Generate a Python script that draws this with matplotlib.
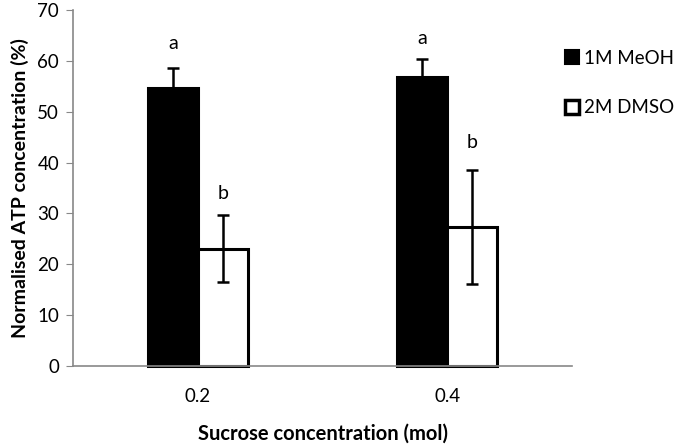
import numpy as np
import matplotlib

matplotlib.use("Agg")
import matplotlib.pyplot as plt
from matplotlib.patches import Patch

categories = ["0.2", "0.4"]
series = ["1M MeOH", "2M DMSO"]
means = [[54.6, 56.8], [23.1, 27.4]]
errors = [[4.0, 3.5], [6.6, 11.2]]
letters = [["a", "a"], ["b", "b"]]
letter_y = [[63.5, 64.4], [34.0, 44.0]]

plt.rcParams["font.family"] = ["Lato", "DejaVu Sans"]

fig = plt.figure(figsize=(6.75, 4.44), dpi=100)
ax = fig.add_axes([73 / 675, 1 - 366 / 444, (572 - 73) / 675, 356 / 444])

x = np.arange(len(categories))
width = 0.2
fills = ["black", "white"]
for i, name in enumerate(series):
    pos = x - width / 2 + i * width
    ax.bar(pos, means[i], width, color=fills[i], edgecolor="black", linewidth=2.2,
           label=name, zorder=2, clip_on=False)
    ax.errorbar(pos, means[i], yerr=errors[i], fmt="none", ecolor="black",
                elinewidth=1.8, capsize=4, capthick=1.8, zorder=3)
    for p, lab, ly in zip(pos, letters[i], letter_y[i]):
        ax.text(p, ly, lab, ha="center", va="center", fontsize=14)

ax.set_xlim(-0.5, 1.5)
ax.set_ylim(0, 70)
ax.set_yticks(range(0, 71, 10))
ax.set_xticks(x, categories)
ax.tick_params(axis="x", length=0, labelsize=13.5, pad=16)
ax.tick_params(axis="y", length=5, color="#888888", labelsize=13.5, pad=5)
for s in ["top", "right"]:
    ax.spines[s].set_visible(False)
for s in ["left", "bottom"]:
    ax.spines[s].set_color("#888888")
    ax.spines[s].set_linewidth(1.2)

ax.set_ylabel("Normalised ATP concentration (%)", fontsize=14, fontweight="bold", labelpad=6)
ax.set_xlabel("Sucrose concentration (mol)", fontsize=14.5, fontweight="bold", labelpad=13)

handles = [Patch(facecolor="black", edgecolor="black", linewidth=1.5),
           Patch(facecolor="white", edgecolor="black", linewidth=2.5)]
fig.legend(handles, series, loc="upper left", bbox_to_anchor=(557 / 675, 1 - 42 / 444),
           frameon=False, fontsize=13.5, handlelength=0.75, handleheight=0.75,
           handletextpad=0.3, labelspacing=1.75, borderaxespad=0)

fig.savefig("out.png", dpi=100)
